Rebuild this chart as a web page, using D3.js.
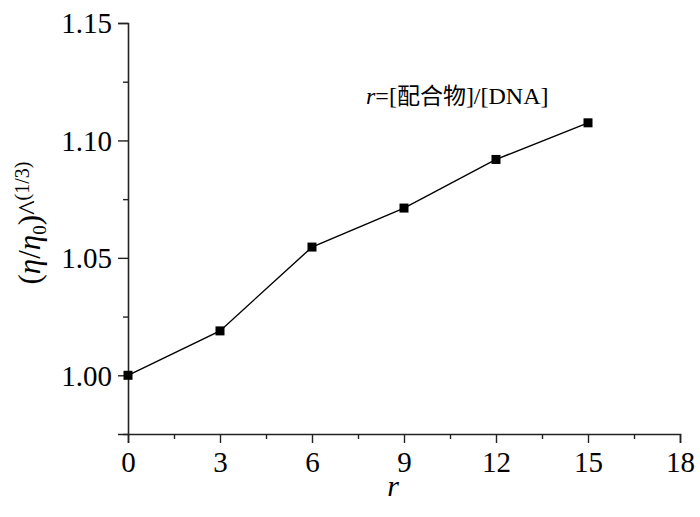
<!DOCTYPE html>
<html>
<head>
<meta charset="utf-8">
<script src="https://cdn.jsdelivr.net/npm/d3@7"></script>
<style>
  body { margin: 0; background: #fff; }
  svg { display: block; }
  text { font-family: "Liberation Serif", "Times New Roman", serif; fill: #000; }
</style>
</head>
<body>
<svg id="chart" width="700" height="517"></svg>
<script>
// Data
const rValues = [0, 3, 6, 9, 12, 15];
const viscRatio = [1.000, 1.0189, 1.0546, 1.0712, 1.0919, 1.1075];
const xTicks = [0, 3, 6, 9, 12, 15, 18];
const xMinorTicks = [1.5, 4.5, 7.5, 10.5, 13.5, 16.5];
const yTicks = [1.00, 1.05, 1.10, 1.15];
const yMinorTicks = [0.975, 1.025, 1.075, 1.125];

const svg = d3.select("#chart");
const x = d3.scaleLinear().domain([0, 18]).range([128, 680]);
const y = d3.scaleLinear().domain([0.975, 1.15]).range([434, 23]);

const axisColor = "#222";

// X axis
const gx = svg.append("g").attr("transform", `translate(0,${y(0.975)})`);
gx.call(d3.axisBottom(x).tickValues(xTicks).tickFormat(d3.format("d")).tickSize(9).tickPadding(6));
gx.append("g").call(d3.axisBottom(x).tickValues(xMinorTicks).tickFormat("").tickSize(5))
  .select(".domain").remove();

// Y axis
const gy = svg.append("g").attr("transform", `translate(${x(0)},0)`);
gy.call(d3.axisLeft(y).tickValues(yTicks).tickFormat(d3.format(".2f")).tickSize(10).tickPadding(6));
gy.append("g").call(d3.axisLeft(y).tickValues(yMinorTicks).tickFormat("").tickSize(5))
  .select(".domain").remove();

svg.selectAll(".domain").attr("stroke", axisColor).attr("stroke-width", 1.6);
svg.selectAll(".tick line").attr("stroke", axisColor).attr("stroke-width", 1.4);
svg.selectAll(".tick text")
  .style("font-family", "'Liberation Serif', 'Times New Roman', serif")
  .style("font-size", "29px")
  .attr("fill", "#000");
gx.selectAll(".tick text").attr("dy", "0.78em");
gy.selectAll(".tick text").attr("dy", "0.34em");

// Line
const line = d3.line().x((d, i) => x(rValues[i])).y(d => y(d));
svg.append("path")
  .datum(viscRatio)
  .attr("fill", "none")
  .attr("stroke", "#000")
  .attr("stroke-width", 1.4)
  .attr("d", line);

// Markers
const ms = 9;
svg.selectAll("rect.pt")
  .data(viscRatio)
  .enter().append("rect")
  .attr("class", "pt")
  .attr("x", (d, i) => x(rValues[i]) - ms / 2)
  .attr("y", d => y(d) - ms / 2)
  .attr("width", ms)
  .attr("height", ms)
  .attr("fill", "#000");

// X axis title
svg.append("text")
  .attr("x", 393)
  .attr("y", 496)
  .attr("text-anchor", "middle")
  .style("font-size", "30px")
  .style("font-style", "italic")
  .text("r");

// Y axis title
const yt = svg.append("text")
  .attr("transform", "translate(40,223) rotate(-90)")
  .attr("text-anchor", "middle")
  .style("font-size", "31px");
yt.append("tspan").text("(");
yt.append("tspan").style("font-style", "italic").text("η");
yt.append("tspan").text("/");
yt.append("tspan").style("font-style", "italic").text("η");
yt.append("tspan").attr("dy", 6).style("font-size", "19px").text("0");
yt.append("tspan").attr("dy", -6).text(")");
yt.append("tspan").text("^");
yt.append("tspan").attr("dy", -11).style("font-size", "20px").text("(1/3)");

// Annotation
const ann = svg.append("text")
  .attr("x", 366)
  .attr("y", 104)
  .style("font-size", "24px");
ann.append("tspan").style("font-style", "italic").text("r");
ann.append("tspan").text("=[");
ann.append("tspan").style("font-family", "'Noto Sans CJK SC', sans-serif").style("font-size", "23px").text("配合物");
ann.append("tspan").text("]/[DNA]");
</script>
</body>
</html>
